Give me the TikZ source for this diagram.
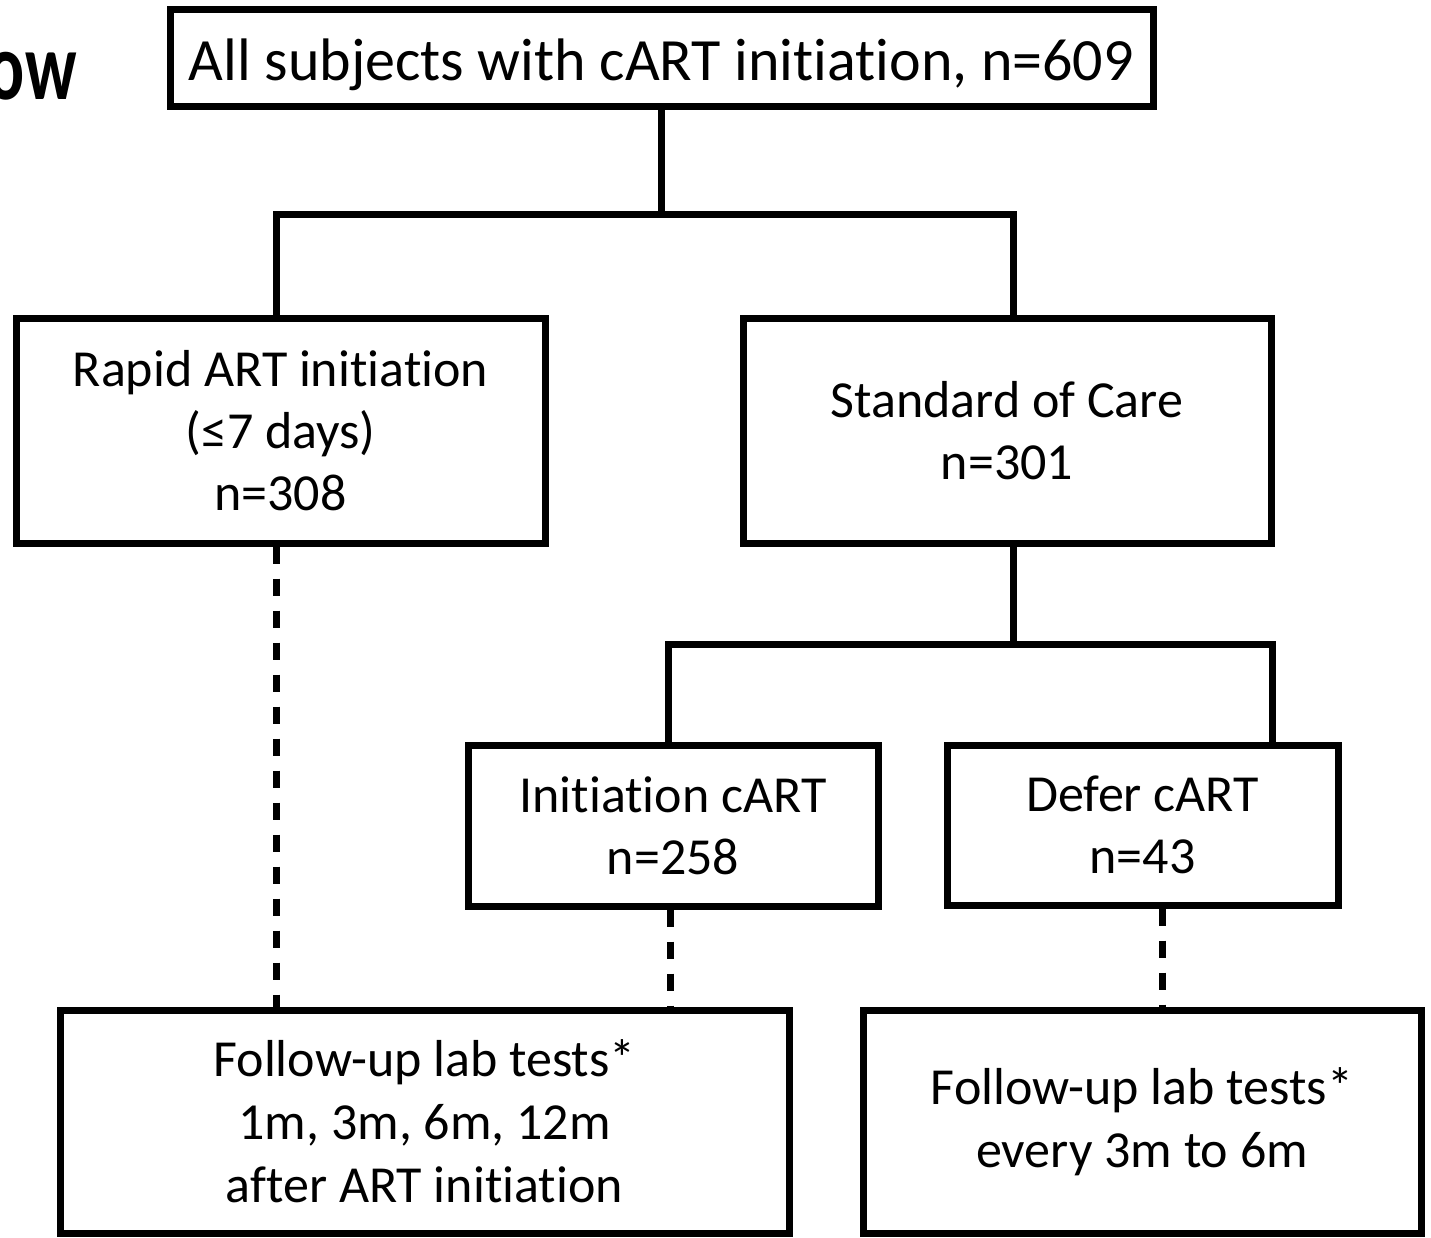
\documentclass[tikz,border=0pt]{standalone}
\usepackage{fontspec}
\setmainfont[Ligatures=NoCommon]{Carlito}
\begin{document}
\begin{tikzpicture}[x=1pt,y=-1pt,
  box/.style={draw=black,line width=7pt,align=center,inner sep=0pt,
    font=\fontsize{52}{62}\selectfont},
  conn/.style={draw=black,line width=7pt},
  dconn/.style={draw=black,line width=7pt,dash pattern=on 17pt off 15pt}]
\useasboundingbox (0,0) rectangle (1431,1238);
\node[anchor=base east,font=\fontsize{96}{100}\selectfont\bfseries] (title) at (80,100) {\scalebox{0.72}[1]{ow}};
\node[box,minimum width=983pt,minimum height=97pt,font=\fontsize{60}{70}\selectfont,text height=57pt,text depth=12pt] (top) at (661.5,58.5) {All subjects with cART initiation, n=609};
\node[box,minimum width=529pt,minimum height=224pt] (rapid) at (280.5,431) {Rapid ART initiation\\(≤7 days)\\n=308};
\node[box,minimum width=528pt,minimum height=224pt] (stand) at (1007,431) {Standard of Care\\n=301};
\node[box,minimum width=410pt,minimum height=161pt] (init) at (673,825.5) {Initiation cART\\n=258};
\node[box,minimum width=391pt,minimum height=160pt] (defer) at (1142.5,825) {Defer cART\\n=43};
\node[box,minimum width=729pt,minimum height=223pt,font=\fontsize{52}{63}\selectfont] (fupl) at (424.5,1121.5) {Follow-up lab tests*\\1m, 3m, 6m, 12m\\after ART initiation};
\node[box,minimum width=558pt,minimum height=223pt,font=\fontsize{52}{63}\selectfont] (fupr) at (1142,1121.5) {Follow-up lab tests*\\every 3m to 6m};
\draw[conn] (top.south -| 661,0) -- (661,215);
\draw[conn] (rapid.north -| 276,0) -- (276,215) -- (1013,215) -- (stand.north -| 1013,0);
\draw[conn] (stand.south -| 1013,0) -- (1013,644);
\draw[conn] (init.north -| 668,0) -- (668,644) -- (1272,644) -- (defer.north -| 1272,0);
\draw[dconn] (rapid.south -| 276,0) -- (fupl.north -| 276,0);
\draw[dconn] (init.south -| 670,0) -- (fupl.north -| 670,0);
\draw[dconn] (defer.south -| 1162,0) -- (fupr.north -| 1162,0);
\end{tikzpicture}
\end{document}
